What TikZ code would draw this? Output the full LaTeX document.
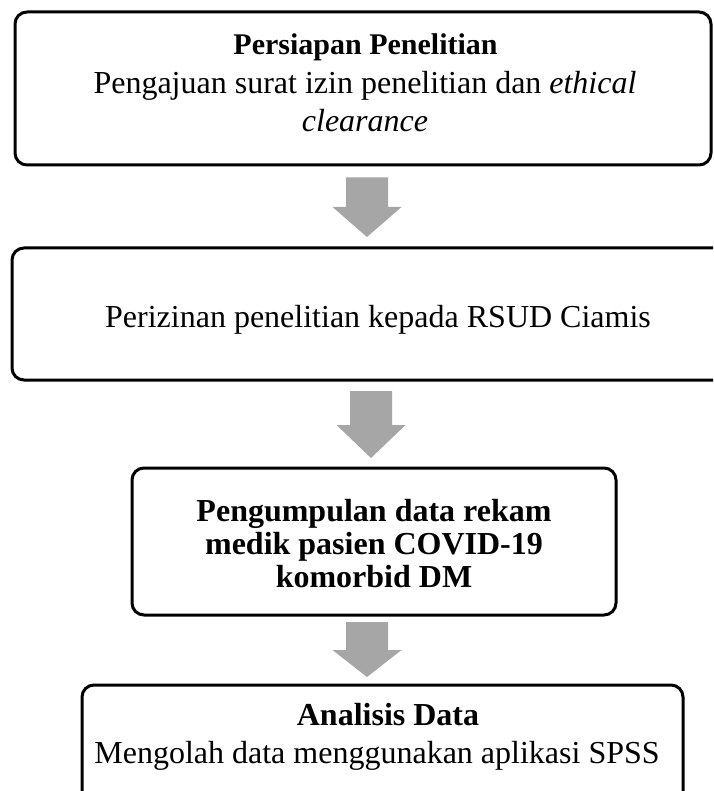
\documentclass[tikz,border=0pt]{standalone}
\usepackage{fontspec}
\setmainfont{Liberation Serif}
\usetikzlibrary{calc}
\definecolor{arrowgray}{HTML}{A6A6A6}
\newcommand{\blockarr}[3]{% #1 start of shaft, #2 tip, #3 head length
  \fill[arrowgray] ($(#1)+(-21,0)$) -- ($(#1)+(21,0)$) -- ($(#2)+(21,#3)$) -- ($(#2)+(34.5,#3)$)
    -- (#2) -- ($(#2)+(-34.5,#3)$) -- ($(#2)+(-21,#3)$) -- cycle;}
\begin{document}
\begin{tikzpicture}[x=1pt,y=1pt,
  box/.style={draw=black, line width=3pt, rounded corners=12pt, inner sep=0pt},
  txt/.style={inner sep=0pt, anchor=base, font=\fontsize{32}{39}\selectfont},
  headtxt/.style={inner sep=0pt, anchor=base, font=\fontsize{32}{39}\selectfont\bfseries},
  smallhead/.style={inner sep=0pt, anchor=base, font=\fontsize{30}{36}\selectfont\bfseries}]
\useasboundingbox (0,0) rectangle (713,-791);
\clip (0,0) rectangle (713,-791);

% boxes
\node[box, minimum width=696pt, minimum height=153pt] (b1) at (363,-88.5) {};
\node[box, minimum width=732pt, minimum height=132pt] (b2) at (378,-314) {};
\node[box, minimum width=484pt, minimum height=147pt] (b3) at (374,-541.5) {};
\node[box, minimum width=601pt, minimum height=135pt] (b4) at (382.5,-752.5) {};

% texts of box 1
\node[smallhead] (t1a) at (365.5,-55) {Persiapan Penelitian};
\node[txt] (t1b) at (365,-94) {Pengajuan surat izin penelitian dan \textit{ethical}};
\node[txt] (t1c) at (365,-132) {\textit{clearance}};

% text of box 2
\node[txt] (t2) at (378,-327) {Perizinan penelitian kepada RSUD Ciamis};

% texts of box 3
\node[headtxt] (t3a) at (374,-521) {Pengumpulan data rekam};
\node[headtxt] (t3b) at (374,-554) {medik pasien COVID-19};
\node[headtxt] (t3c) at (374,-587) {komorbid DM};

% texts of box 4
\node[headtxt] (t4a) at (388,-725) {Analisis Data};
\node[txt] (t4b) at (377,-763) {Mengolah data menggunakan aplikasi SPSS};

% block arrows between boxes
\coordinate (a1s) at ($(b1.south)+(4,-11)$);
\coordinate (a1e) at (a1s |- 0,-237);
\blockarr{a1s}{a1e}{30}
\coordinate (a2s) at (371,-391);
\coordinate (a2e) at (371,-458);
\blockarr{a2s}{a2e}{33}
\coordinate (a3s) at (367,-622);
\coordinate (a3e) at (367,-677);
\blockarr{a3s}{a3e}{27}
\end{tikzpicture}
\end{document}
